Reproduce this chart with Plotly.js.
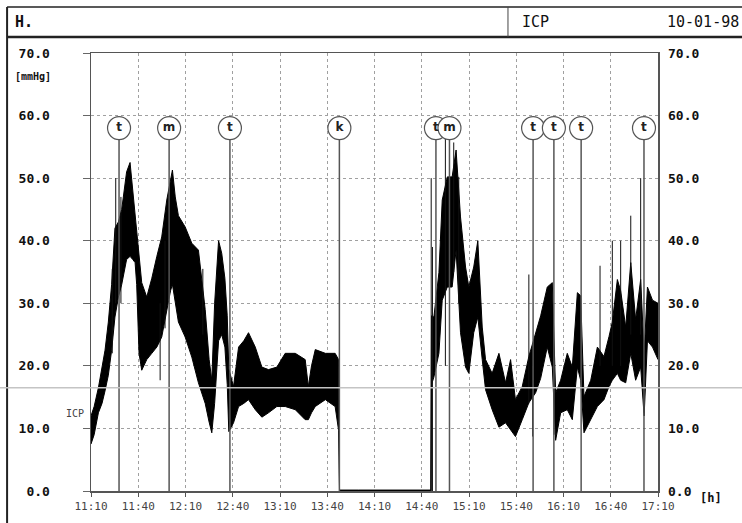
<!DOCTYPE html>
<html>
<head>
<meta charset="utf-8">
<script src="https://cdn.plot.ly/plotly-3.0.1.min.js"></script>
<style>html,body{margin:0;padding:0;background:#fff;}#chart{width:742px;height:523px;}</style>
</head>
<body>
<div id="chart"></div>
<script>
// Time in minutes after 11:10
var bandTime = [0,2,4.7,7,8.9,11,13.1,15.2,17.4,19.5,22.6,24.8,26.5,28,29,30.5,32.2,35.4,38.6,41.8,44.9,48.1,50.5,51.7,53.5,55.5,59.8,64,68.2,72.5,75,76.7,78.5,81,83,85,86.5,87.5,90.5,93.7,97,100,104.3,108.5,112.7,118,123.3,129.7,136,138,140,142.4,148.8,155,157.2,157.8,170,190,210,215.8,
  216.2,217.7,220.9,223,226.2,229.3,231.8,234.6,237.8,239.9,243,245.6,248.4,250.5,254.7,259,263.2,266.4,269.5,273.8,278,282.3,285.5,289.7,292.9,295,298.2,302.4,305.6,308.8,310.9,313,317.3,321.5,325.7,328.9,331,334.2,336.3,339.5,342.7,345.8,349,351.2,353.3,356.5,360];
var bandLow = [7.5,9,12.5,14,16,18.5,22.5,27.8,31,33,37,37.5,37,36.5,33,22,19.3,21,22,23,24.6,28.9,32,33,30,27,24.6,21.4,17.3,14,11,9.3,14,24,25,23,17,9.5,10.9,13.5,14,14.6,13,11.8,12.5,13.5,13.5,13,11.4,11.4,12.5,13.5,14.6,13.5,9.7,0,0,0,0,0,
  17,18.2,22,30.5,32.6,32.6,38.5,25.3,19.8,18.8,25.3,27.8,21,16.2,13,10.2,10.9,9.8,8.7,11.4,14.1,15.7,18,23,19.8,8.1,12.5,13,11.4,19.8,17.7,9.3,11.4,13.5,14.6,16.7,17.7,18.8,17.7,17.3,22,17.7,19.8,12,24,23,21];
var bandHigh = [12,13.5,16.5,19.5,22.5,27,33,42,43,45,51,52.5,48,44,42,38,33.3,31,34,37.5,40.6,46.5,50,51.3,47,44,42.2,39.6,38.5,29,21,17.7,30,40,38,34,28,19.5,16.7,23,24,25.3,23,19.8,19.4,19.8,22,22,21,16.7,20,22.6,22,22,21,0.15,0.15,0.15,0.2,0.15,
  28,27.8,34.9,46.5,50.2,50.2,54.5,43.8,35.8,32.6,35.8,40,26.2,21,18.8,22,17.3,21,14.6,16.7,21.5,25.3,28,32.6,33.3,15.7,17.7,22,19.8,31.7,31.2,15.1,17.7,23,21.5,24.7,27,33.8,32,26.2,36.5,27.4,33.8,22,32.6,30.5,30];

// Isolated spikes: time, low, high
var spikeTime = [13.5,15.7,19,43.9,47,71,216,216.8,225,230.3,233.5,278,280.4,294,323.2,331,336.3,342.7,349,351.2];
var spikeLow  = [22,30,30,17.7,26,25,0,0,20,35,30,14,8.7,9,20,20,20,25,25,12.5];
var spikeHigh = [35.5,50,47,30,40,35.5,50,39,57,55.7,50.2,34.6,20,20,36,40,40,44,50,20];

// Event markers
var eventTime = [17.8,49.6,88.2,157.7,219,227.6,280.7,293.9,311.2,351.1];
var eventLabel = ['t','m','t','k','t','m','t','t','t','t'];
var eventTop = 56.2;
var eventCircle = 58.0;

// Axes
var xTickVals = [0,30,60,90,120,150,180,210,240,270,300,330,360];
var xTickText = ['11:10','11:40','12:10','12:40','13:10','13:40','14:10','14:40','15:10','15:40','16:10','16:40','17:10'];
var yTickVals = [0,10,20,30,40,50,60,70];
var yTickText = ['0.0','10.0','20.0','30.0','40.0','50.0','60.0','70.0'];

var spikeX = [], spikeY = [];
for (var i = 0; i < spikeTime.length; i++) {
  spikeX.push(spikeTime[i], spikeTime[i], null);
  spikeY.push(spikeLow[i], spikeHigh[i], null);
}
var evX = [], evY = [];
for (var j = 0; j < eventTime.length; j++) {
  evX.push(eventTime[j], eventTime[j], null);
  evY.push(0, eventTop, null);
}
var circleY = eventTime.map(function(){ return eventCircle; });

var traces = [
  {x: bandTime, y: bandLow, mode: 'lines', line: {color: '#000', width: 1}, hoverinfo: 'skip', showlegend: false},
  {x: bandTime, y: bandHigh, mode: 'lines', fill: 'tonexty', fillcolor: '#000', line: {color: '#000', width: 1}, hoverinfo: 'skip', showlegend: false},
  {x: spikeX, y: spikeY, mode: 'lines', line: {color: '#111', width: 1}, hoverinfo: 'skip', showlegend: false, connectgaps: false},
  {x: evX, y: evY, mode: 'lines', line: {color: '#555', width: 1.5}, hoverinfo: 'skip', showlegend: false, connectgaps: false},
  {x: eventTime, y: circleY, mode: 'markers+text', text: eventLabel, textposition: 'middle center',
   textfont: {family: 'DejaVu Sans', size: 12, color: '#222', weight: 'bold'},
   marker: {symbol: 'circle', size: 23, color: '#fff', line: {color: '#555', width: 1.2}},
   cliponaxis: false, hoverinfo: 'skip', showlegend: false},
  {x: [0], y: [0], yaxis: 'y2', mode: 'markers', marker: {opacity: 0}, hoverinfo: 'skip', showlegend: false}
];

var monoB = {family: 'DejaVu Sans Mono', size: 13, color: '#111', weight: 'bold'};

var layout = {
  width: 742, height: 523,
  margin: {l: 91, r: 84, t: 53, b: 32},
  paper_bgcolor: '#fff', plot_bgcolor: '#fff',
  showlegend: false,
  xaxis: {
    range: [0, 360], tickmode: 'array', tickvals: xTickVals, ticktext: xTickText,
    ticks: 'outside', ticklen: 4, tickcolor: '#555',
    tickfont: {family: 'DejaVu Sans Mono', size: 11, color: '#444'},
    showgrid: true, gridcolor: '#a0a0a0', griddash: 'dot', gridwidth: 1,
    showline: true, linecolor: '#555', linewidth: 1.5, mirror: true,
    zeroline: false, fixedrange: true
  },
  yaxis: {
    range: [0, 70], tickmode: 'array', tickvals: yTickVals, ticktext: yTickText,
    ticks: 'outside', ticklen: 7, tickcolor: '#666', ticklabelstandoff: 30,
    tickfont: monoB,
    showgrid: true, gridcolor: '#a0a0a0', griddash: 'dot', gridwidth: 1,
    showline: true, linecolor: '#555', linewidth: 1.5, mirror: true,
    zeroline: false, fixedrange: true
  },
  yaxis2: {
    range: [0, 70], overlaying: 'y', side: 'right', tickmode: 'array', tickvals: yTickVals, ticktext: yTickText,
    ticks: '', ticklabelstandoff: 9, tickfont: monoB,
    showgrid: false, showline: false, zeroline: false, fixedrange: true
  },
  shapes: [
    {type: 'line', xref: 'paper', yref: 'paper', x0: -0.148, x1: 1.2, y0: 1.105, y1: 1.105, line: {color: '#222', width: 1.5}},
    {type: 'line', xref: 'paper', yref: 'paper', x0: -0.148, x1: 1.2, y0: 1.0366, y1: 1.0366, line: {color: '#222', width: 2.5}},
    {type: 'line', xref: 'paper', yref: 'paper', x0: -0.148, x1: -0.148, y0: 1.105, y1: -0.08, line: {color: '#222', width: 2}},
    {type: 'line', xref: 'paper', yref: 'paper', x0: 0.7354, x1: 0.7354, y0: 1.105, y1: 1.0366, line: {color: '#444', width: 1}},
    {type: 'line', xref: 'paper', yref: 'paper', x0: -0.1605, x1: 1.2, y0: 0.2357, y1: 0.2357, line: {color: '#c4c4c4', width: 1.5}}
  ],
  annotations: [
    {xref: 'paper', yref: 'paper', x: -0.138, y: 1.071, xanchor: 'left', yanchor: 'middle', showarrow: false,
     text: 'H.', font: {family: 'DejaVu Sans Mono', size: 15, color: '#111', weight: 'bold'}},
    {xref: 'paper', yref: 'paper', x: 0.756, y: 1.071, xanchor: 'left', yanchor: 'middle', showarrow: false,
     text: 'ICP', font: {family: 'DejaVu Sans Mono', size: 15, color: '#111'}},
    {xref: 'paper', yref: 'paper', x: 1.146, y: 1.071, xanchor: 'right', yanchor: 'middle', showarrow: false,
     text: '10-01-98', font: {family: 'DejaVu Sans Mono', size: 15, color: '#111'}},
    {xref: 'paper', yref: 'paper', x: -0.1376, y: 0.947, xanchor: 'left', yanchor: 'middle', showarrow: false,
     text: '[mmHg]', font: {family: 'DejaVu Sans Mono', size: 10, color: '#111', weight: 'bold'}},
    {xref: 'paper', yref: 'paper', x: -0.009, y: 0.178, xanchor: 'right', yanchor: 'middle', showarrow: false,
     text: 'ICP', font: {family: 'DejaVu Sans Mono', size: 10, color: '#444'}},
    {xref: 'paper', yref: 'paper', x: 1.0705, y: -0.016, xanchor: 'left', yanchor: 'middle', showarrow: false,
     text: '[h]', font: {family: 'DejaVu Sans Mono', size: 12, color: '#111', weight: 'bold'}}
  ]
};

Plotly.newPlot('chart', traces, layout, {staticPlot: true, displayModeBar: false});
</script>
</body>
</html>
